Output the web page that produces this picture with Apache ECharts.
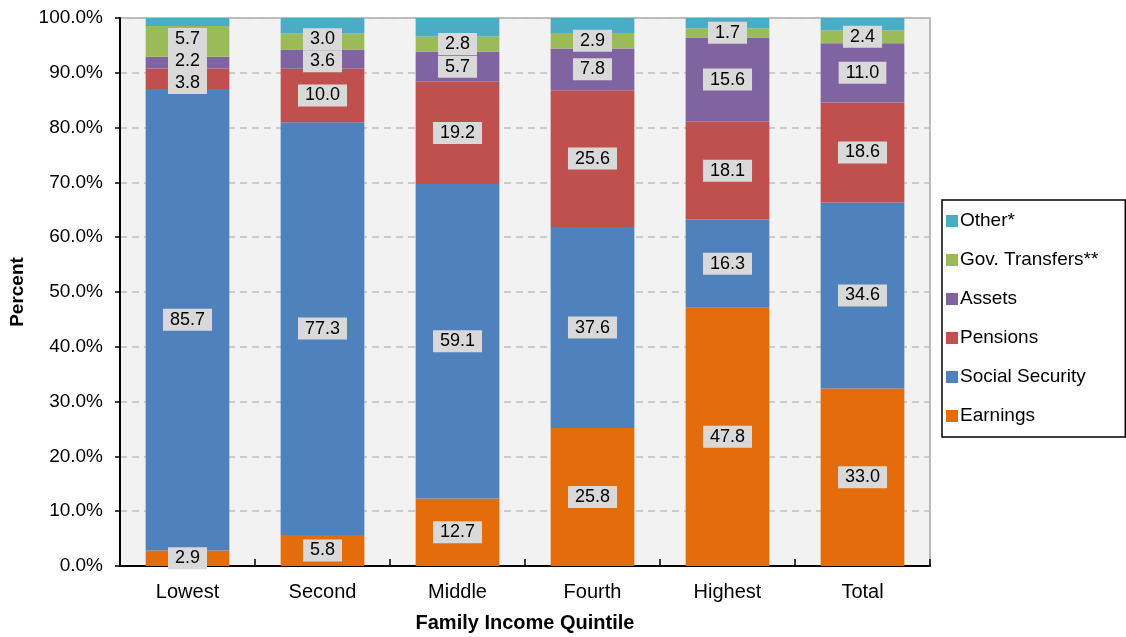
<!DOCTYPE html>
<html>
<head>
<meta charset="utf-8">
<script src="https://cdn.jsdelivr.net/npm/echarts@6/dist/echarts.min.js"></script>
<style>
html,body{margin:0;padding:0;background:#fff;}
#chart{width:1126px;height:637px;}
</style>
</head>
<body>
<div id="chart"></div>
<script>
// Family income quintiles
const categories = ['Lowest', 'Second', 'Middle', 'Fourth', 'Highest', 'Total'];
// Raw shares (labels); bars are drawn as a 100% stack of these
const earnings = [2.9, 5.8, 12.7, 25.8, 47.8, 33.0];
const socialSecurity = [85.7, 77.3, 59.1, 37.6, 16.3, 34.6];
const pensions = [3.8, 10.0, 19.2, 25.6, 18.1, 18.6];
const assets = [2.2, 3.6, 5.7, 7.8, 15.6, 11.0];
const govTransfers = [5.7, 3.0, 2.8, 2.9, 1.7, 2.4];
const other = [1.5, 2.9, 3.5, 2.8, 1.9, 2.3]; // unlabeled
const seriesNames = ['Earnings', 'Social Security', 'Pensions', 'Assets', 'Gov. Transfers**', 'Other*'];
const legendOrder = ['Other*', 'Gov. Transfers**', 'Assets', 'Pensions', 'Social Security', 'Earnings'];
const yTicks = [0, 10, 20, 30, 40, 50, 60, 70, 80, 90, 100];

const rawSeries = [earnings, socialSecurity, pensions, assets, govTransfers, other];
const colors = ['#e46c0a', '#4f81bd', '#c0504d', '#8064a2', '#9bbb59', '#4bacc6'];
const totals = categories.map((c, i) => rawSeries.reduce((s, arr) => s + arr[i], 0));
const pct = rawSeries.map(arr => arr.map((v, i) => v / totals[i] * 100));

const FONT = '"Liberation Sans", Arial, sans-serif';
const LABEL_STEP = 22; // min vertical distance between label centres

function buildSeries(offsets) {
  return rawSeries.map((arr, si) => ({
    name: seriesNames[si],
    type: 'bar',
    stack: 'total',
    barWidth: '62%',
    itemStyle: { color: colors[si] },
    data: pct[si].slice(),
    label: {
      show: si < 5,
      position: 'inside',
      formatter: p => arr[p.dataIndex].toFixed(1),
      backgroundColor: '#d9d9d9',
      padding: [3, 7, 2, 7],
      lineHeight: 17,
      color: '#000',
      fontSize: 18,
      fontFamily: FONT
    },
    labelLayout: p => ({
      hideOverlap: false,
      dy: offsets ? offsets[p.seriesIndex][p.dataIndex] : 0
    })
  }));
}

const chart = echarts.init(document.getElementById('chart'), null, { renderer: 'canvas' });
chart.setOption({
  animation: false,
  backgroundColor: '#ffffff',
  textStyle: { fontFamily: FONT },
  grid: {
    left: 120, right: 196, top: 18, bottom: 71,
    outerBoundsMode: 'none',
    containLabel: false,
    show: true, backgroundColor: '#f2f2f2', borderColor: '#a6a6a6', borderWidth: 1.5
  },
  legend: {
    data: legendOrder,
    orient: 'vertical',
    left: 942, top: 200,
    itemWidth: 12, itemHeight: 12,
    itemGap: 19,
    icon: 'rect',
    padding: [11, 27, 11, 4],
    backgroundColor: '#ffffff',
    borderColor: '#000',
    borderWidth: 1.5,
    textStyle: { fontSize: 19, color: '#000', fontFamily: FONT, lineHeight: 20, padding: [0, 0, 0, -3] }
  },
  xAxis: {
    type: 'category',
    data: categories,
    boundaryGap: true,
    name: 'Family Income Quintile',
    nameLocation: 'middle',
    nameGap: 47,
    nameTextStyle: { fontSize: 20, fontWeight: 'bold', color: '#000', fontFamily: FONT },
    axisLine: { lineStyle: { color: '#000', width: 2 } },
    axisTick: { show: true, inside: true, length: 7, lineStyle: { color: '#000', width: 1.5 } },
    axisLabel: { fontSize: 20, color: '#000', margin: 16, fontFamily: FONT }
  },
  yAxis: {
    type: 'value',
    min: 0, max: 100, interval: 10,
    name: 'Percent',
    nameLocation: 'middle',
    nameGap: 92,
    nameRotate: 90,
    nameTextStyle: { fontSize: 19, fontWeight: 'bold', color: '#000', fontFamily: FONT },
    axisLine: { show: true, lineStyle: { color: '#000', width: 2 } },
    axisTick: { show: true, length: 5, lineStyle: { color: '#000', width: 1.5 } },
    axisLabel: {
      fontSize: 19, color: '#000', margin: 17, fontFamily: FONT,
      formatter: v => yTicks.includes(v) ? v.toFixed(1) + '%' : ''
    },
    splitLine: { show: true, lineStyle: { color: '#bfbfbf', width: 1.5, type: [7, 5] } }
  },
  series: buildSeries(null)
});

// Resolve overlapping labels within each column (Excel-like spreading)
const offsets = rawSeries.map(arr => arr.map(() => 0));
categories.forEach((c, ci) => {
  let cum = 0;
  const items = [];
  for (let si = 0; si < rawSeries.length; si++) {
    const v = pct[si][ci];
    if (si < 5) {
      const pt = chart.convertToPixel({ gridIndex: 0 }, [ci, cum + v / 2]);
      items.push({ si, y: pt[1] });
    }
    cum += v;
  }
  items.sort((a, b) => a.y - b.y);
  const place = cl => {
    const n = cl.items.length;
    const m = cl.items.reduce((s, it) => s + it.y, 0) / n;
    cl.start = m - (n - 1) * LABEL_STEP / 2;
    cl.end = cl.start + (n - 1) * LABEL_STEP;
  };
  const clusters = items.map(it => ({ items: [it] }));
  clusters.forEach(place);
  let merged = true;
  while (merged) {
    merged = false;
    for (let k = 0; k < clusters.length - 1; k++) {
      if (clusters[k + 1].start - clusters[k].end < LABEL_STEP) {
        const cl = { items: clusters[k].items.concat(clusters[k + 1].items) };
        place(cl);
        clusters.splice(k, 2, cl);
        merged = true;
        break;
      }
    }
  }
  clusters.forEach(cl => {
    cl.items.forEach((it, k) => {
      offsets[it.si][ci] = cl.start + k * LABEL_STEP - it.y;
    });
  });
});
chart.setOption({ series: buildSeries(offsets) });
</script>
</body>
</html>
